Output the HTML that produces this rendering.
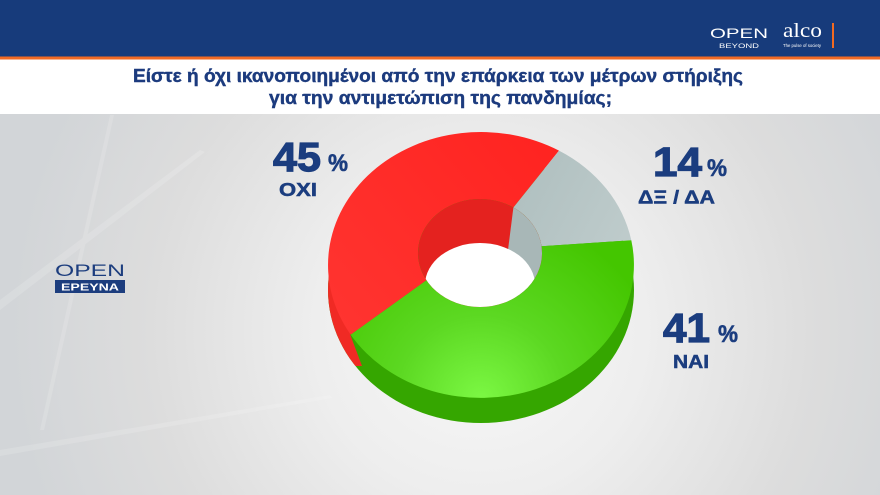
<!DOCTYPE html>
<html>
<head>
<meta charset="utf-8">
<style>
  html,body{margin:0;padding:0;width:880px;height:495px;overflow:hidden;background:#e6e6e6;}
  svg{display:block;}
  text{font-family:"Liberation Sans","DejaVu Sans",sans-serif;}
</style>
</head>
<body>
<svg width="880" height="495" viewBox="0 0 880 495" xmlns="http://www.w3.org/2000/svg">
  <defs>
    <radialGradient id="bg" cx="480" cy="330" r="470" gradientUnits="userSpaceOnUse">
      <stop offset="0" stop-color="#f8f8f8"/>
      <stop offset="0.35" stop-color="#eeeeee"/>
      <stop offset="0.7" stop-color="#dddddd"/>
      <stop offset="1" stop-color="#d2d5d8"/>
    </radialGradient>
    <linearGradient id="redG" x1="560" y1="140" x2="340" y2="330" gradientUnits="userSpaceOnUse">
      <stop offset="0" stop-color="#ff2320"/>
      <stop offset="1" stop-color="#ff3430"/>
    </linearGradient>
    <linearGradient id="greyG" x1="520" y1="180" x2="635" y2="240" gradientUnits="userSpaceOnUse">
      <stop offset="0" stop-color="#b0c0c0"/>
      <stop offset="1" stop-color="#bfcccc"/>
    </linearGradient>
    <radialGradient id="greenG" cx="481" cy="400" r="190" gradientUnits="userSpaceOnUse">
      <stop offset="0" stop-color="#7cf844"/>
      <stop offset="0.45" stop-color="#5cd822"/>
      <stop offset="1" stop-color="#44c600"/>
    </radialGradient>
    <clipPath id="innerClip">
      <ellipse cx="480" cy="253" rx="62" ry="54"/>
    </clipPath>
    <clipPath id="sideClip">
      <ellipse cx="481" cy="290" rx="153" ry="133"/>
    </clipPath>
  </defs>

  <!-- background -->
  <rect x="0" y="0" width="880" height="495" fill="url(#bg)"/>
  <g opacity="0.15" fill="#ffffff">
    <polygon points="0,300 200,150 205,152 0,310"/>
    <polygon points="0,450 330,395 332,398 0,456"/>
    <polygon points="40,430 110,115 114,115 44,430"/>
  </g>

  <!-- header -->
  <rect x="0" y="0" width="880" height="57" fill="#173b7b"/>
  <rect x="0" y="56.5" width="880" height="3" fill="#f26a24"/>
  <rect x="0" y="59.5" width="880" height="54.5" fill="#ffffff"/>

  <!-- header logos -->
  <text x="710" y="38" font-size="14" fill="#ffffff" textLength="58" lengthAdjust="spacingAndGlyphs">OPEN</text>
  <text x="719" y="48" font-size="6.5" fill="#ffffff" textLength="40" lengthAdjust="spacingAndGlyphs">BEYOND</text>
  <text x="783" y="37" font-size="20" fill="#ffffff" style="font-family:'Liberation Serif',serif" textLength="39" lengthAdjust="spacingAndGlyphs">alco</text>
  <text x="783" y="47" font-size="4.5" fill="#ffffff" textLength="38" lengthAdjust="spacingAndGlyphs">The pulse of society</text>
  <rect x="832" y="23" width="2" height="25" fill="#f26a21"/>

  <!-- title -->
  <g fill="#1c3b7e" stroke="#1c3b7e" stroke-width="0.4" font-weight="bold">
    <text x="133" y="82" font-size="18" textLength="610" lengthAdjust="spacingAndGlyphs">Είστε ή όχι ικανοποιημένοι από την επάρκεια των μέτρων στήριξης</text>
    <text x="269" y="104" font-size="18" textLength="343" lengthAdjust="spacingAndGlyphs">για την αντιμετώπιση της πανδημίας;</text>
  </g>

  <!-- left logo -->
  <text x="55" y="276" font-size="17" fill="#1c3d7e" textLength="70" lengthAdjust="spacingAndGlyphs">OPEN</text>
  <rect x="55" y="280" width="70" height="13" fill="#1c3d7e"/>
  <text x="90" y="290.5" font-size="10" font-weight="bold" fill="#ffffff" text-anchor="middle" textLength="58" lengthAdjust="spacingAndGlyphs">ΕΡΕΥΝΑ</text>

  <!-- donut side wall -->
  <ellipse cx="481" cy="290" rx="153" ry="133" fill="#35a600"/>
  <g clip-path="url(#sideClip)">
    <polygon points="320,250 350,250 350,334 362,366 320,366" fill="#f02a24"/>
  </g>

  <!-- donut top face -->
  <path d="M559,150.6 A153,133 0 0 0 350.7,334.7 L426.5,280.3 A62,54 0 0 1 513.4,207.5 Z" fill="url(#redG)"/>
  <path d="M631.3,240.3 A153,133 0 0 0 559,150.6 L513.4,207.5 A62,54 0 0 1 541.5,246.2 Z" fill="url(#greyG)"/>
  <path d="M350.7,334.7 A153,133 0 0 0 631.3,240.3 L541.5,246.2 A62,54 0 0 1 426.5,280.3 Z" fill="url(#greenG)"/>

  <!-- inner wall + hole -->
  <g clip-path="url(#innerClip)">
    <rect x="410" y="190" width="140" height="130" fill="#e4221f"/>
    <polygon points="513.4,207.5 508,250 504,330 560,330 560,190" fill="#a8b7b7"/>
    <ellipse cx="480" cy="285" rx="55" ry="42" fill="#ffffff"/>
  </g>

  <!-- labels -->
  <g fill="#1b3d7f" stroke="#1b3d7f" font-weight="bold">
    <text x="273" y="171" font-size="41" stroke-width="1.2" textLength="48" lengthAdjust="spacingAndGlyphs">45</text>
    <text x="328" y="171" font-size="24" stroke-width="0.6" textLength="20" lengthAdjust="spacingAndGlyphs">%</text>
    <text x="279" y="196" font-size="18" stroke-width="0.5" textLength="38" lengthAdjust="spacingAndGlyphs">ΟΧΙ</text>

    <text x="653" y="176" font-size="41" stroke-width="1.2" textLength="49" lengthAdjust="spacingAndGlyphs">14</text>
    <text x="707" y="176" font-size="24" stroke-width="0.6" textLength="20" lengthAdjust="spacingAndGlyphs">%</text>
    <text x="638" y="203.5" font-size="18" stroke-width="0.5" textLength="77" lengthAdjust="spacingAndGlyphs">ΔΞ / ΔΑ</text>

    <text x="663" y="342" font-size="41" stroke-width="1.2" textLength="47" lengthAdjust="spacingAndGlyphs">41</text>
    <text x="718" y="342" font-size="24" stroke-width="0.6" textLength="20" lengthAdjust="spacingAndGlyphs">%</text>
    <text x="673" y="368" font-size="18" stroke-width="0.5" textLength="36" lengthAdjust="spacingAndGlyphs">ΝΑΙ</text>
  </g>
</svg>
</body>
</html>
